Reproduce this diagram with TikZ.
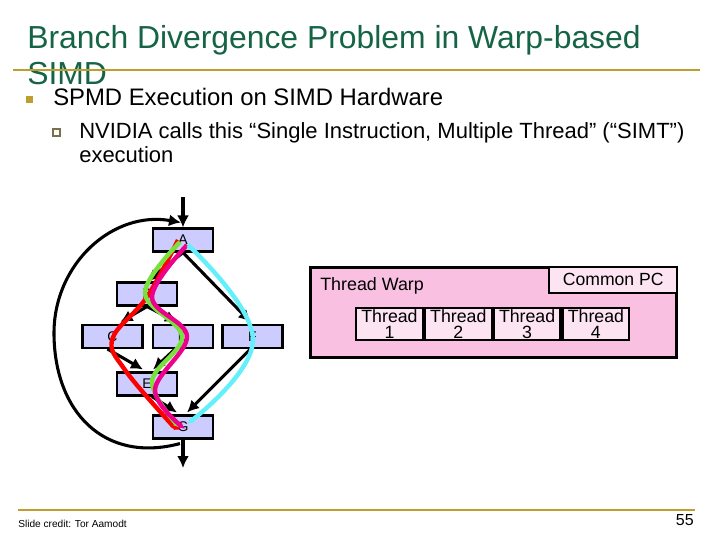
\documentclass[tikz,border=0pt]{standalone}
\usepackage{fontspec}
\setmainfont{Liberation Sans}
\usepackage{xcolor}
\usepackage{tikz}
\usetikzlibrary{arrows.meta, positioning, calc}

\definecolor{titlegreen}{RGB}{22,100,70}
\definecolor{rulegold}{RGB}{190,158,48}
\definecolor{blockfill}{RGB}{204,204,255}
\definecolor{warppink}{RGB}{249,192,226}
\definecolor{lightpink}{RGB}{252,228,242}
\definecolor{thrcyan}{RGB}{100,240,250}
\definecolor{thrgreen}{RGB}{120,225,60}

\tikzset{
  block/.style={draw=black, line width=1.8pt, fill=blockfill, minimum width=45pt, minimum height=17pt, inner sep=0pt, font=\fontsize{10.5}{10.5}\selectfont},
  flow/.style={black, line width=2.3pt, -{Latex[length=9pt,width=9pt]}},
  thread/.style={line width=3.3pt, -{Latex[length=5pt,width=5pt]}},
  lane/.style={draw=black, line width=1.6pt, fill=lightpink, minimum width=50pt, minimum height=24pt, inner sep=0pt, align=center, font=\fontsize{13.3}{12.5}\selectfont},
}

\begin{document}
\begin{tikzpicture}[x=0.75pt, y=-0.75pt]
  \useasboundingbox (0,0) rectangle (720,540);
  % Title
  \node[anchor=base west, inner sep=0pt, text=titlegreen, font=\fontsize{23.9}{23.9}\selectfont] (title1) at (27,48) {Branch Divergence Problem in Warp-based};
  \node[anchor=base west, inner sep=0pt, text=titlegreen, font=\fontsize{23.9}{23.9}\selectfont] (title2) at (27,84) {SIMD};
  \draw[rulegold, line width=2.2pt] (13,70) -- (700,70);
  % Bullets
  \fill[rulegold] (26,96) rectangle (33,103);
  \node[anchor=base west, inner sep=0pt, font=\fontsize{17.9}{17.9}\selectfont] (item1) at (53,105) {SPMD Execution on SIMD Hardware};
  \draw[rulegold!40!gray!80!black, line width=0.8pt, fill=white] (53,129) rectangle (60,136);
  \node[anchor=base west, inner sep=0pt, font=\fontsize{16.5}{16.5}\selectfont] (item2) at (79,138) {NVIDIA calls this “Single Instruction, Multiple Thread” (“SIMT”)};
  \node[anchor=base west, inner sep=0pt, font=\fontsize{16.5}{16.5}\selectfont] (item3) at (79,162) {execution};

  % Control flow graph
  \node[block] (A) at (183,240) {A};
  \node[block] (B) at (147,294) {B};
  \node[block] (C) at (112.5,336.5) {C};
  \node[block] (D) at (183,336.5) {D};
  \node[block] (F) at (252.5,336.5) {F};
  \node[block] (E) at (147,384) {E};
  \node[block] (G) at (183,427) {G};
  \coordinate (entry) at (183,197);
  \coordinate (exit) at (183,468);
  \coordinate (loopL) at (54,333);

  \draw[flow] (entry) -- (A.north);
  \draw[flow] (A.south) -- (B.north);
  \draw[flow] (A.south) -- ($(F.north)+(-2,-2)$);
  \draw[flow] (B.south) -- ($(C.north)+(8,-2)$);
  \draw[flow] (B.south) -- ($(D.north)+(-6,-2)$);
  \draw[flow] ($(C.south)+(-5,0)$) -- ($(E.north)+(-4,-2)$);
  \draw[flow] ($(D.south)+(-8,0)$) -- ($(E.north)+(6,-2)$);
  \draw[flow] ($(E.south)+(5,0)$) -- ($(G.north)+(-6,-2)$);
  \draw[flow] ($(F.south)+(-2,0)$) -- ($(G.north)+(4,-2)$);
  \draw[flow] (G.south) -- (exit);
  \draw[flow] ($(G.south)+(-3,4)$) to[out=195, in=270, looseness=1.2] (loopL) to[out=90, in=170, looseness=1.05] ($(A.north)+(-2,-5)$);

  % Threads
  \draw[thread, red] plot[smooth, tension=0.6] coordinates {($(A)+(-5,0)$) ($(B)+(0,3)$) ($(C)+(0,2)$) ($(E)+(-22,-14)$) ($(G)+(-10,-1)$)} -- ($(G)+(-2,3)$);
  \draw[thread, thrgreen] plot[smooth, tension=0.6] coordinates {($(A)+(-3,2)$) ($(B)+(-2,-1)$) ($(D)+(-1,0)$) ($(E)+(5,-2)$) ($(G)+(-3,1)$)};
  \draw[thread, magenta] plot[smooth, tension=0.6] coordinates {($(A)+(4,5)$) ($(B)+(5,3)$) ($(D)+(4,0)$) ($(E)+(8,6)$) ($(G)+(2,2)$)};
  \draw[thread, thrcyan] plot[smooth, tension=0.7] coordinates {($(A)+(5,5)$) ($(F)+(0.5,3.5)$) ($(G)+(4,-3)$)};

  % Thread warp
  \node[draw=black, line width=2.2pt, fill=warppink, minimum width=275pt, minimum height=68pt, inner sep=0pt] (warp) at (493.5,312.5) {};
  \node[draw=black, line width=1.6pt, fill=lightpink, anchor=north east, minimum width=96pt, minimum height=19.5pt, inner sep=0pt, font=\fontsize{13.2}{13.2}\selectfont] (pc) at (warp.north east) {Common PC};
  \node[anchor=base west, inner sep=0pt, font=\fontsize{13.4}{13.4}\selectfont] (warplabel) at (320,290) {Thread Warp};
  \node[lane] (t1) at (389.5,324) {Thread\\1};
  \node[lane, right=0pt of t1] (t2) {Thread\\2};
  \node[lane, right=0pt of t2] (t3) {Thread\\3};
  \node[lane, right=0pt of t3] (t4) {Thread\\4};

  % Footer
  \draw[rulegold, line width=2.2pt] (18,510) -- (695,510);
  \node[anchor=base west, inner sep=0pt, font=\fontsize{7.6}{7.6}\selectfont] (credit) at (18,527) {Slide credit: Tor Aamodt};
  \node[anchor=base east, inner sep=0pt, font=\fontsize{12}{12}\selectfont] (page) at (694,525) {55};
\end{tikzpicture}
\end{document}
